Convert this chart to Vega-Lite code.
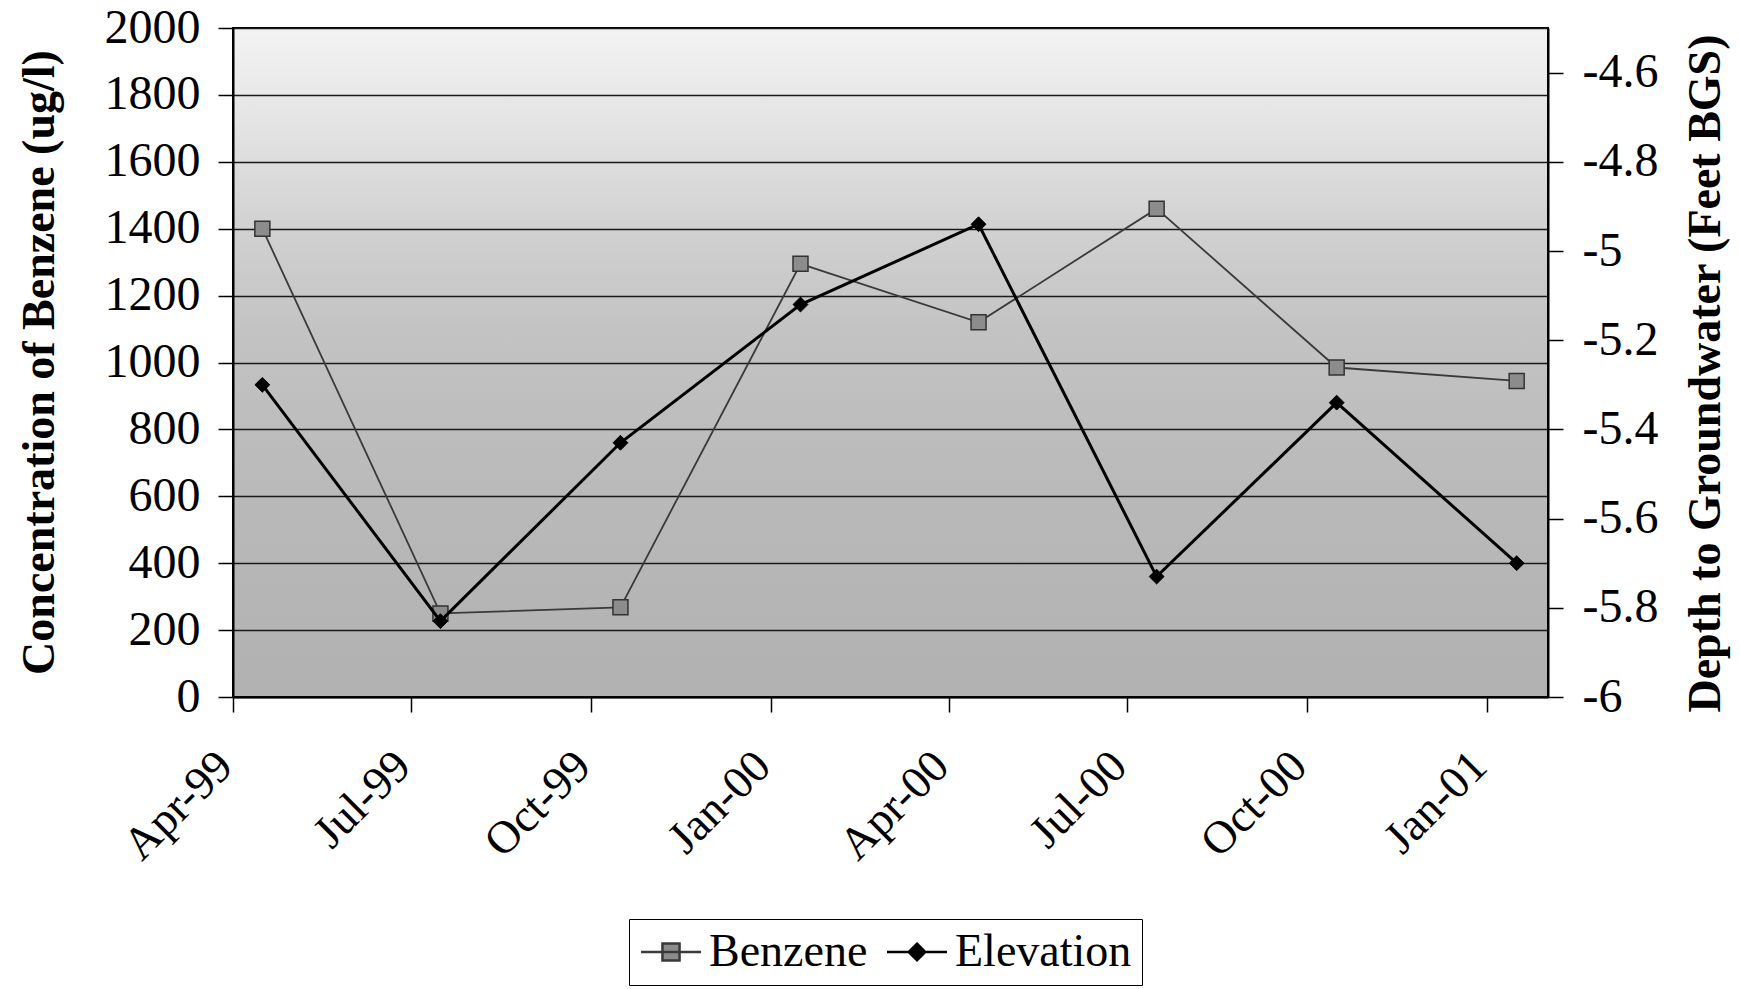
{
  "$schema": "https://vega.github.io/schema/vega-lite/v6.json",
  "width": 1315,
  "height": 669,
  "autosize": {"type": "none"},
  "padding": {"left": 233, "top": 28, "right": 192, "bottom": 292},
  "background": "#ffffff",
  "config": {
    "font": "Liberation Serif",
    "view": {
      "stroke": "#000000",
      "strokeWidth": 2,
      "fill": {
        "gradient": "linear",
        "x1": 0, "y1": 0, "x2": 0, "y2": 1,
        "stops": [
          {"offset": 0, "color": "#f3f3f3"},
          {"offset": 0.15, "color": "#e3e3e3"},
          {"offset": 0.3, "color": "#d1d1d1"},
          {"offset": 0.45, "color": "#c3c3c3"},
          {"offset": 0.7, "color": "#b9b9b9"},
          {"offset": 1, "color": "#b1b1b1"}
        ]
      }
    },
    "axis": {
      "labelFont": "Liberation Serif",
      "labelFontSize": 46,
      "labelColor": "#000000",
      "titleFont": "Liberation Serif",
      "titleFontSize": 46,
      "titleFontWeight": "bold",
      "titleColor": "#000000",
      "tickColor": "#000000",
      "tickWidth": 1.5,
      "tickSize": 15,
      "domainColor": "#000000",
      "domainWidth": 2
    }
  },
  "data": {
    "values": [
      {"date": "1999-04-16", "series": "Benzene", "value": 1400},
      {"date": "1999-07-16", "series": "Benzene", "value": 250},
      {"date": "1999-10-16", "series": "Benzene", "value": 268},
      {"date": "2000-01-16", "series": "Benzene", "value": 1295},
      {"date": "2000-04-16", "series": "Benzene", "value": 1120},
      {"date": "2000-07-16", "series": "Benzene", "value": 1460},
      {"date": "2000-10-16", "series": "Benzene", "value": 985},
      {"date": "2001-01-16", "series": "Benzene", "value": 945},
      {"date": "1999-04-16", "series": "Elevation", "value": -5.30},
      {"date": "1999-07-16", "series": "Elevation", "value": -5.83},
      {"date": "1999-10-16", "series": "Elevation", "value": -5.43},
      {"date": "2000-01-16", "series": "Elevation", "value": -5.12},
      {"date": "2000-04-16", "series": "Elevation", "value": -4.94},
      {"date": "2000-07-16", "series": "Elevation", "value": -5.73},
      {"date": "2000-10-16", "series": "Elevation", "value": -5.34},
      {"date": "2001-01-16", "series": "Elevation", "value": -5.70}
    ]
  },
  "encoding": {
    "x": {
      "field": "date",
      "type": "temporal",
      "scale": {
        "type": "utc",
        "nice": false,
        "domain": [
          {"year": 1999, "month": 4, "date": 1, "utc": true},
          {"year": 2001, "month": 2, "date": 1, "utc": true}
        ]
      },
      "axis": {
        "title": null,
        "labelExpr": "utcFormat(datum.value, '%b-%y')",
        "values": [
          {"year": 1999, "month": 4, "date": 1, "utc": true},
          {"year": 1999, "month": 7, "date": 1, "utc": true},
          {"year": 1999, "month": 10, "date": 1, "utc": true},
          {"year": 2000, "month": 1, "date": 1, "utc": true},
          {"year": 2000, "month": 4, "date": 1, "utc": true},
          {"year": 2000, "month": 7, "date": 1, "utc": true},
          {"year": 2000, "month": 10, "date": 1, "utc": true},
          {"year": 2001, "month": 1, "date": 1, "utc": true}
        ],
        "labelAngle": -45,
        "labelAlign": "right",
        "labelBaseline": "top",
        "labelPadding": 31,
        "labelOffset": -24,
        "labelFlush": false,
        "labelOverlap": false,
        "grid": false
      }
    }
  },
  "layer": [
    {
      "transform": [{"filter": "datum.series === 'Benzene'"}],
      "encoding": {
        "y": {
          "field": "value",
          "type": "quantitative",
          "scale": {"domain": [0, 2000], "nice": false},
          "axis": {
            "title": "Concentration of Benzene (ug/l)",
            "values": [0, 200, 400, 600, 800, 1000, 1200, 1400, 1600, 1800, 2000],
            "format": "d",
            "labelFontSize": 48,
            "labelPadding": 18,
            "grid": true,
            "gridColor": "#1a1a1a",
            "gridWidth": 1.5,
            "gridOpacity": 1,
            "titleAngle": -90,
            "titleX": -194,
            "titleY": 334,
            "titleAlign": "center",
            "titleBaseline": "middle"
          }
        }
      },
      "layer": [
        {
          "mark": {"type": "line", "strokeWidth": 1.8},
          "encoding": {
            "color": {
              "field": "series",
              "type": "nominal",
              "scale": {"domain": ["Benzene", "Elevation"], "range": ["#3a3a3a", "#000000"]},
              "legend": {
                "title": null,
                "orient": "none",
                "legendX": 396,
                "legendY": 891,
                "direction": "horizontal",
                "padding": 10,
                "strokeColor": "#000000",
                "fillColor": "#ffffff",
                "labelFont": "Liberation Serif",
                "labelFontSize": 46,
                "labelColor": "#000000",
                "labelLimit": 400,
                "labelOffset": 24,
                "columnPadding": 14,
                "symbolSize": 900,
                "encode": {
                  "symbols": {
                    "update": {
                      "shape": {"signal": "datum.value === 'Benzene' ? 'M-1.4,0H2.6M0.03,-0.57H1.17V0.57H0.03Z' : 'M-1.4,0H2.6M0.6,-0.55L1.15,0L0.6,0.55L0.05,0Z'"},
                      "fill": {"signal": "datum.value === 'Benzene' ? '#8c8c8c' : '#000000'"},
                      "stroke": {"signal": "datum.value === 'Benzene' ? '#333333' : '#000000'"},
                      "strokeWidth": {"value": 2.5},
                      "size": {"value": 900},
                      "opacity": {"value": 1},
                      "fillOpacity": {"value": 1}
                    }
                  }
                }
              }
            }
          }
        },
        {
          "mark": {"type": "point", "shape": "square", "filled": true, "fill": "#8c8c8c", "stroke": "#333333", "strokeWidth": 1.5, "size": 225, "opacity": 1}
        }
      ]
    },
    {
      "transform": [{"filter": "datum.series === 'Elevation'"}],
      "encoding": {
        "y": {
          "field": "value",
          "type": "quantitative",
          "scale": {"domain": [-6, -4.5], "nice": false, "zero": false},
          "axis": {
            "orient": "right",
            "title": "Depth to Groundwater (Feet BGS)",
            "values": [-6, -5.8, -5.6, -5.4, -5.2, -5, -4.8, -4.6],
            "labelExpr": "'' + datum.value",
            "labelFontSize": 48,
            "labelPadding": 19,
            "grid": false,
            "titleAngle": -90,
            "titleX": 157,
            "titleY": 345,
            "titleAlign": "center",
            "titleBaseline": "middle",
            "encode": {
              "ticks": {"update": {"x": {"value": -15}}}
            }
          }
        }
      },
      "layer": [
        {
          "mark": {"type": "line", "strokeWidth": 3},
          "encoding": {
            "color": {
              "field": "series",
              "type": "nominal",
              "scale": {"domain": ["Benzene", "Elevation"], "range": ["#3a3a3a", "#000000"]}
            }
          }
        },
        {
          "mark": {"type": "point", "shape": "diamond", "filled": true, "fill": "#000000", "stroke": "#000000", "strokeWidth": 1, "size": 220, "opacity": 1}
        }
      ]
    }
  ],
  "resolve": {"scale": {"y": "independent"}}
}
